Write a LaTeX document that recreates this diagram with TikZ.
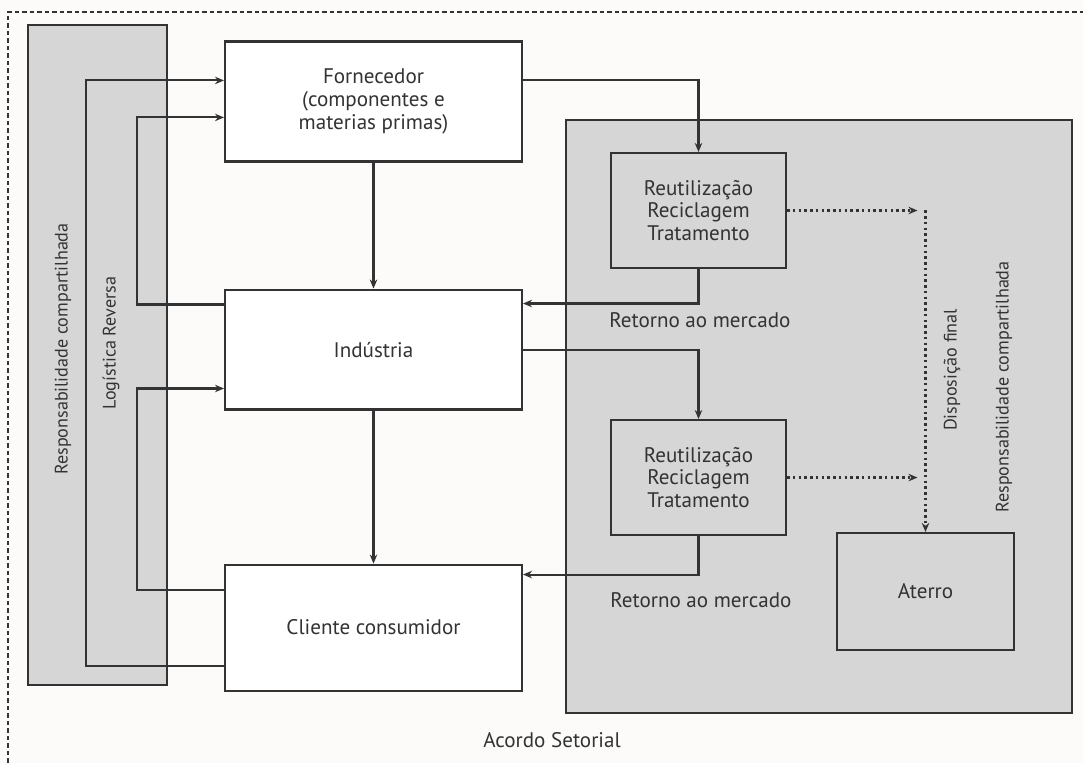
\documentclass[tikz,border=0pt]{standalone}
\usepackage{fontspec}
\setmainfont{PT Sans}
\usepackage{xcolor}
\definecolor{rlline}{HTML}{333333}
\definecolor{rlgray}{HTML}{D6D6D6}
\definecolor{rlpaper}{HTML}{FCFBFA}
\usetikzlibrary{arrows.meta,positioning}

\begin{document}
\begin{tikzpicture}[x=0.02cm,y=-0.02cm,
  box/.style={draw=rlline,line width=1.2pt,fill=white,align=center,font=\fontsize{12}{13}\selectfont,
    text=rlline,minimum width=5.94cm,minimum height=2.4cm,inner sep=0pt},
  proc/.style={draw=rlline,line width=1.2pt,align=center,font=\fontsize{12}{13}\selectfont,
    text=rlline,minimum width=3.5cm,minimum height=2.3cm,inner sep=0pt},
  panel/.style={draw=rlline,line width=1.2pt,fill=rlgray,inner sep=0pt},
  lbl/.style={font=\fontsize{12}{13}\selectfont,text=rlline,inner sep=0pt},
  vlbl/.style={font=\fontsize{10.3}{12}\selectfont,text=rlline,rotate=90,inner sep=0pt},
  arr/.style={-{Stealth[length=1.8mm,width=1.5mm]},line width=1.2pt,rlline},
  dotarr/.style={-{Stealth[length=1.8mm,width=1.5mm]},line width=1.5pt,rlline,
    dash pattern=on 0.05cm off 0.065cm}]
  \fill[rlpaper] (0,0) rectangle (1083,763);
  \useasboundingbox (0,0) rectangle (1083,763);
  \draw[rlline,line width=0.8pt,dash pattern=on 0.09cm off 0.06cm] (8,770) -- (8,12) -- (1090,12);

  \node[panel,minimum width=2.78cm,minimum height=13.2cm] (leftpanel) at (97.5,355) {};
  \node[panel,minimum width=10.12cm,minimum height=11.86cm] (rightpanel) at (819,416.5) {};

  \node[box] (forn) at (373.5,101.5) {Fornecedor\\(componentes e\\materias primas)};
  \node[box,below=2.52cm of forn] (ind) {Indústria};
  \node[box,below=3.06cm of ind,minimum height=2.52cm] (cli) {Cliente consumidor};

  \node[proc] (reuse1) at (698.5,210.5) {Reutilização\\Reciclagem\\Tratamento};
  \node[proc,below=3.0cm of reuse1] (reuse2) {Reutilização\\Reciclagem\\Tratamento};
  \node[proc,minimum width=3.54cm,minimum height=2.34cm] (aterro) at (925.5,591.5) {Aterro};

  \node[lbl,anchor=west] (ret1) at (609,320) {Retorno ao mercado};
  \node[lbl,anchor=west] (ret2) at (610,600) {Retorno ao mercado};
  \node[lbl] (acordo) at (552,740) {Acordo Setorial};

  \node[vlbl] (resp1) at (63,349) {Responsabilidade compartilhada};
  \node[vlbl] (logrev) at (111,343) {Logística Reversa};
  \node[vlbl] (dispfin) at (952,370) {Disposição final};
  \node[vlbl] (resp2) at (1004,387) {Responsabilidade compartilhada};

  \coordinate (outerloop) at (86,350);
  \coordinate (innertop) at (137,200);
  \coordinate (innerbot) at (137,480);
  \coordinate (dispturn) at (reuse1.east -| aterro.north);

  \draw[arr] ([yshift=-0.8cm]forn.north east) -| (reuse1.north);
  \draw[arr] (forn) -- (ind);
  \draw[arr] (ind) -- (cli);
  \draw[arr] (reuse1.south) |- ([yshift=-0.3cm]ind.north east);
  \draw[arr] (ind.east) -| (reuse2.north);
  \draw[arr] (reuse2.south) |- ([yshift=-0.22cm]cli.north east);

  \draw[arr] ([yshift=0.52cm]cli.south west) -| (outerloop) |- ([yshift=-0.8cm]forn.north west);
  \draw[arr] ([yshift=-0.32cm]ind.north west) -| (innertop) |- ([yshift=-1.54cm]forn.north west);
  \draw[arr] ([yshift=-0.52cm]cli.north west) -| (innerbot) |- ([yshift=-2.0cm]ind.north west);

  \draw[dotarr,shorten >=0.16cm] (reuse1.east) -- (dispturn);
  \draw[dotarr,shorten >=0.16cm] (reuse2.east) -- (reuse2.east -| aterro.north);
  \draw[dotarr] (dispturn) -- (aterro.north);
\end{tikzpicture}
\end{document}
